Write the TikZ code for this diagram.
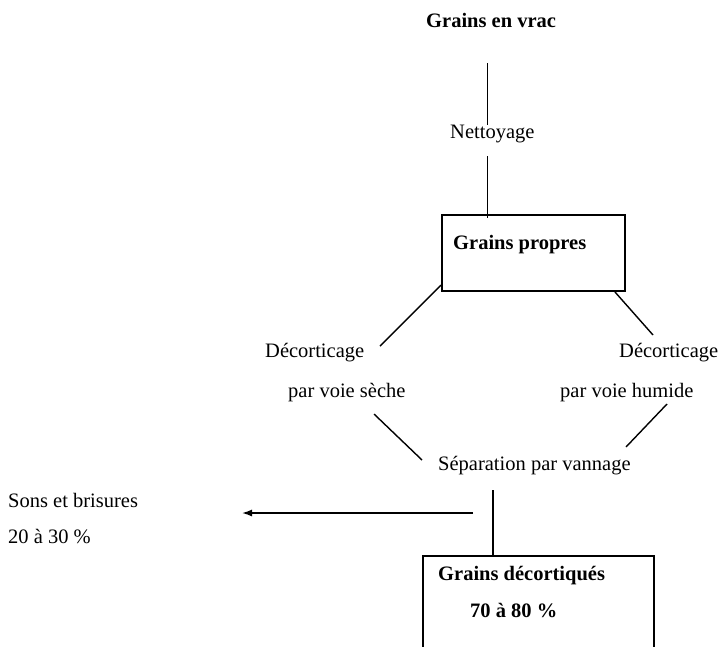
\documentclass[tikz,border=0pt]{standalone}
\usepackage{fontspec}
\setmainfont{Liberation Serif}
\usetikzlibrary{arrows.meta}
\begin{document}
\begin{tikzpicture}[x=1pt,y=-1pt,
  txt/.style={inner sep=0pt,anchor=base west,font=\fontsize{20.5}{24}\selectfont},
  btxt/.style={txt,font=\fontsize{20.5}{24}\selectfont\bfseries},
  boxn/.style={draw,line width=1.4pt,inner sep=0pt,rectangle},
  link/.style={line width=1.4pt},
  flow/.style={line width=1.4pt,-{Latex[length=10pt,width=7pt]}}]
\useasboundingbox (0,0) rectangle (722,646);
\clip (0,0) rectangle (722,646);
% boxes
\node[boxn,minimum width=183pt,minimum height=76pt] (gpbox) at (533.5,253) {};
\node[boxn,minimum width=231pt,minimum height=110pt] (gdbox) at (538.5,611) {};
% texts
\node[btxt] (vrac) at (426,27) {Grains en vrac};
\node[txt] (nett) at (450,138) {Nettoyage};
\node[btxt] (gp) at (453,249) {Grains propres};
\node[txt] (decL) at (265,357) {Décorticage};
\node[txt] (secheL) at (288,397) {par voie sèche};
\node[txt] (decR) at (619,357) {Décorticage};
\node[txt] (humR) at (560,397) {par voie humide};
\node[txt] (sep) at (438,470) {Séparation par vannage};
\node[txt] (sons) at (8,507) {Sons et brisures};
\node[txt] (pct1) at (8,543) {20 à 30 \%};
\node[btxt] (gd) at (438,580) {Grains décortiqués};
\node[btxt] (pct2) at (470,617) {70 à 80 \%};
% connector end points
\coordinate (a1) at (487.5,63);  \coordinate (a2) at (487.5,125);
\coordinate (b1) at (487.5,156); \coordinate (b2) at (487.5,218);
\coordinate (c1) at (441,285);   \coordinate (c2) at (380,346);
\coordinate (d1) at (615,292);   \coordinate (d2) at (653,335);
\coordinate (e1) at (374,414);   \coordinate (e2) at (422,460);
\coordinate (f1) at (667,404);   \coordinate (f2) at (626,447);
\coordinate (g1) at (473,513);   \coordinate (g2) at (242,513);
\coordinate (h1) at (493,490);   \coordinate (h2) at (493,556);
% connectors
\draw[link] (a1) -- (a2);
\draw[link] (b1) -- (b2);
\draw[link] (c1) -- (c2);
\draw[link] (d1) -- (d2);
\draw[link] (e1) -- (e2);
\draw[link] (f1) -- (f2);
\draw[flow] (g1) -- (g2);
\draw[link] (h1) -- (h2);
\end{tikzpicture}
\end{document}
